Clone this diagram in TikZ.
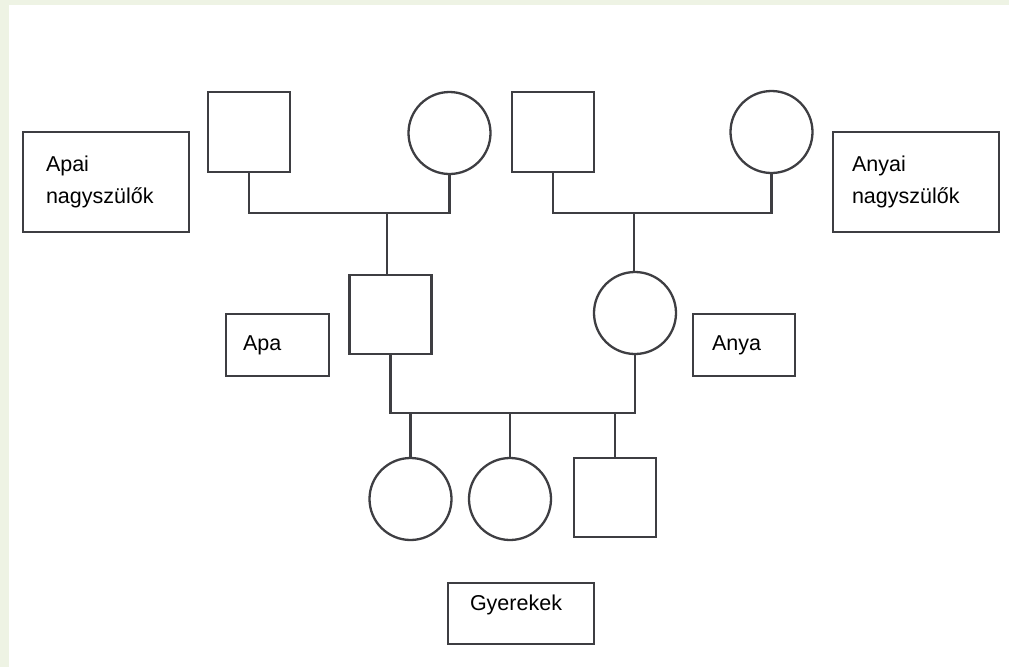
\documentclass[tikz,border=0pt]{standalone}
\usepackage{fontspec}
\setmainfont{Liberation Sans}
\definecolor{ln}{RGB}{62,62,66}
\definecolor{bgstrip}{RGB}{238,243,228}
\begin{document}
\begin{tikzpicture}[x=1pt,y=-1pt,
  sq/.style={draw=ln, line width=2.3pt, minimum width=82pt, minimum height=80pt, inner sep=0pt},
  ci/.style={draw=ln, line width=2.3pt, circle, minimum size=82pt, inner sep=0pt},
  lbl/.style={draw=ln, line width=2.3pt, inner ysep=0pt, align=left, text=black,
              font=\fontsize{21.5}{32}\selectfont},
  conn/.style={draw=ln, line width=2.3pt}]
\useasboundingbox (0,0) rectangle (1009,667);
\fill[bgstrip] (0,0) rectangle (9,667);
\fill[bgstrip] (0,0) rectangle (1009,5);

% grandparents
\node[sq] (pgf) at (249,132) {};
\node[ci] (pgm) at (449.5,133) {};
\node[sq] (mgf) at (553,132) {};
\node[ci] (mgm) at (771.5,132) {};
% parents
\node[sq, minimum height=79pt] (apa) at (390.5,314.5) {};
\node[ci] (anya) at (635,313) {};
% children
\node[ci] (c1) at (410.5,499) {};
\node[ci] (c2) at (510,499) {};
\node[sq, minimum height=79pt] (c3) at (615,497.5) {};

% labels
\node[lbl, inner xsep=23pt, text width=120pt, minimum height=100pt] (apai) at (106,182) {Apai\\nagyszülők};
\node[lbl, inner xsep=19pt, text width=128pt, minimum height=100pt] (anyai) at (916,182) {Anyai\\nagyszülők};
\node[lbl, inner xsep=17pt, text width=69pt, minimum height=62pt] (apalbl) at (277.5,345) {Apa};
\node[lbl, inner xsep=19pt, text width=64pt, minimum height=62pt] (anyalbl) at (744,345) {Anya};
\node[lbl, inner xsep=22pt, text width=102pt, minimum height=61pt] (gyer) at (521,613.5) {Gyerekek\vphantom{p}\\[-10pt]\mbox{}};

% connectors
\coordinate (pj) at (387,213);
\coordinate (mj) at (634,213);
\coordinate (cbar) at (500,413);
\draw[conn] (pgf.south) |- (pj) -| (pgm.south);
\draw[conn] (pj) -- (pj |- apa.north);
\draw[conn] (mgf.south) |- (mj) -| (mgm.south);
\draw[conn] (mj) -- (mj |- anya.north);
\draw[conn] (apa.south) |- (cbar) -| (anya.south);
\draw[conn] (c1.north) -- (c1.north |- cbar);
\draw[conn] (c2.north) -- (c2.north |- cbar);
\draw[conn] (c3.north) -- (c3.north |- cbar);
\end{tikzpicture}
\end{document}
